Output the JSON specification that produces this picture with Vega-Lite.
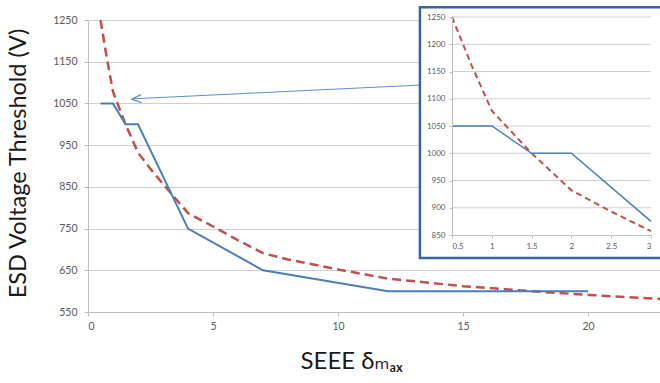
{
  "$schema": "https://vega.github.io/schema/vega-lite/v6.json",
  "width": 572,
  "height": 292,
  "autosize": {"type": "none"},
  "padding": {"left": 88, "top": 20, "right": 0, "bottom": 71},
  "background": "white",
  "config": {"view": {"stroke": null}, "font": "Lato"},
  "datasets": {
    "blue": [
      {"x": 0.5, "y": 1050}, {"x": 1, "y": 1050}, {"x": 1.5, "y": 1000}, {"x": 2, "y": 1000},
      {"x": 3, "y": 875}, {"x": 4, "y": 750}, {"x": 7, "y": 650}, {"x": 12, "y": 600}, {"x": 20, "y": 600}
    ],
    "red": [
      {"x": 0.5, "y": 1250}, {"x": 0.75, "y": 1160}, {"x": 1, "y": 1078}, {"x": 1.5, "y": 1000},
      {"x": 2, "y": 932}, {"x": 2.5, "y": 893}, {"x": 3, "y": 857}, {"x": 4, "y": 787},
      {"x": 5, "y": 755}, {"x": 6, "y": 722}, {"x": 7, "y": 691}, {"x": 8, "y": 676},
      {"x": 10, "y": 652}, {"x": 12, "y": 630}, {"x": 15, "y": 612}, {"x": 17.7, "y": 600},
      {"x": 20, "y": 591}, {"x": 23, "y": 581}
    ],
    "insetGrid": [
      {"x": 0.5, "y": 900}, {"x": 3, "y": 900},
      {"x": 0.5, "y": 950}, {"x": 3, "y": 950},
      {"x": 0.5, "y": 1000}, {"x": 3, "y": 1000},
      {"x": 0.5, "y": 1050}, {"x": 3, "y": 1050},
      {"x": 0.5, "y": 1100}, {"x": 3, "y": 1100},
      {"x": 0.5, "y": 1150}, {"x": 3, "y": 1150},
      {"x": 0.5, "y": 1200}, {"x": 3, "y": 1200},
      {"x": 0.5, "y": 1250}, {"x": 3, "y": 1250}
    ],
    "one": [{}]
  },
  "layer": [
    {
      "layer": [
        {
          "data": {"name": "red"},
          "mark": {"type": "line", "color": "#c0504d", "strokeWidth": 2.5, "strokeDash": [9, 5], "clip": true},
          "encoding": {
            "x": {
              "field": "x", "type": "quantitative",
              "scale": {"domain": [0, 22.88], "nice": false, "zero": false},
              "axis": {
                "values": [0, 5, 10, 15, 20], "grid": false,
                "domainColor": "#bfbfbf", "tickColor": "#bfbfbf", "tickSize": 4,
                "labelPadding": 5, "labelFont": "Lato", "labelFontSize": 10.5, "labelColor": "#595959",
                "title": "SEEE δₘₐₓ", "titleFont": "Lato, DejaVu Sans", "titleFontSize": 24,
                "titleFontWeight": "normal", "titleColor": "#1a1a1a",
                "titleAlign": "left", "titleX": 212, "titleY": 56, "titleBaseline": "alphabetic",
                "zindex": 0
              }
            },
            "y": {
              "field": "y", "type": "quantitative",
              "scale": {"domain": [550, 1250], "nice": false, "zero": false},
              "axis": {
                "values": [550, 650, 750, 850, 950, 1050, 1150, 1250], "format": "d", "grid": true,
                "gridColor": "#d0d0d0", "gridWidth": 1,
                "domainColor": "#bfbfbf", "tickColor": "#bfbfbf", "tickSize": 4,
                "labelPadding": 7, "labelFont": "Lato", "labelFontSize": 10.5, "labelColor": "#595959",
                "title": "ESD Voltage Threshold (V)", "titleFont": "Lato", "titleFontSize": 23.5,
                "titleFontWeight": "normal", "titleColor": "#1a1a1a",
                "titleAngle": -90, "titleAlign": "center", "titleBaseline": "alphabetic",
                "titleX": -63, "titleY": 143,
                "zindex": 0
              }
            }
          }
        },
        {
          "data": {"name": "blue"},
          "mark": {"type": "line", "color": "#4a7ebb", "strokeWidth": 2},
          "encoding": {
            "x": {"field": "x", "type": "quantitative"},
            "y": {"field": "y", "type": "quantitative"}
          }
        },
        {
          "data": {"name": "one"},
          "mark": {"type": "rule", "color": "#5b8ed0", "strokeWidth": 1},
          "encoding": {
            "x": {"datum": 1.77}, "y": {"datum": 1061},
            "x2": {"datum": 13.3}, "y2": {"datum": 1094}
          }
        },
        {
          "data": {"name": "one"},
          "mark": {"type": "point", "shape": "M0.9,-0.8L-1,0L0.9,0.8", "filled": false, "size": 100,
                   "color": "#5b8ed0", "strokeWidth": 1.2, "angle": 357, "opacity": 1},
          "encoding": {"x": {"datum": 1.95}, "y": {"datum": 1061}}
        }
      ]
    },
    {
      "layer": [
        {
          "data": {"name": "one"},
          "mark": {"type": "rect", "fill": "white", "stroke": "#3a64a0", "strokeWidth": 2.5},
          "encoding": {
            "x": {"datum": 0.097, "type": "quantitative"},
            "x2": {"datum": 3.25},
            "y": {"datum": 1268, "type": "quantitative"},
            "y2": {"datum": 808}
          }
        },
        {
          "data": {"name": "insetGrid"},
          "mark": {"type": "line", "color": "#d0d0d0", "strokeWidth": 1},
          "encoding": {
            "x": {"field": "x", "type": "quantitative"},
            "y": {"field": "y", "type": "quantitative"},
            "detail": {"field": "y", "type": "nominal"}
          }
        },
        {
          "data": {"name": "red"},
          "transform": [{"filter": "datum.x <= 3"}],
          "mark": {"type": "line", "color": "#c0504d", "strokeWidth": 2, "strokeDash": [6, 4]},
          "encoding": {
            "x": {
              "field": "x", "type": "quantitative",
              "scale": {"domain": [0.5, 3], "range": [364, 563], "nice": false, "zero": false},
              "axis": {
                "orient": "bottom", "offset": -77,
                "values": [0.5, 1, 1.5, 2, 2.5, 3], "format": ".1~f", "grid": false,
                "domainColor": "#bfbfbf", "tickColor": "#bfbfbf", "tickSize": 3,
                "labelPadding": 4, "labelFont": "Lato", "labelFontSize": 8, "labelColor": "#595959",
                "title": null, "zindex": 2
              }
            },
            "y": {
              "field": "y", "type": "quantitative",
              "scale": {"domain": [850, 1250], "range": [215, -3], "nice": false, "zero": false},
              "axis": {
                "orient": "left", "offset": -364,
                "tickCount": 8, "format": "d", "labelOverlap": false,
                "grid": false,
                "domainColor": "#bfbfbf", "tickColor": "#bfbfbf", "tickSize": 3,
                "labelPadding": 4, "labelFont": "Lato", "labelFontSize": 8, "labelColor": "#595959",
                "title": null, "zindex": 2
              }
            }
          }
        },
        {
          "data": {"name": "blue"},
          "transform": [{"filter": "datum.x <= 3"}],
          "mark": {"type": "line", "color": "#4a7ebb", "strokeWidth": 1.5},
          "encoding": {
            "x": {"field": "x", "type": "quantitative"},
            "y": {"field": "y", "type": "quantitative"}
          }
        }
      ]
    }
  ],
  "resolve": {"scale": {"x": "independent", "y": "independent"}}
}
